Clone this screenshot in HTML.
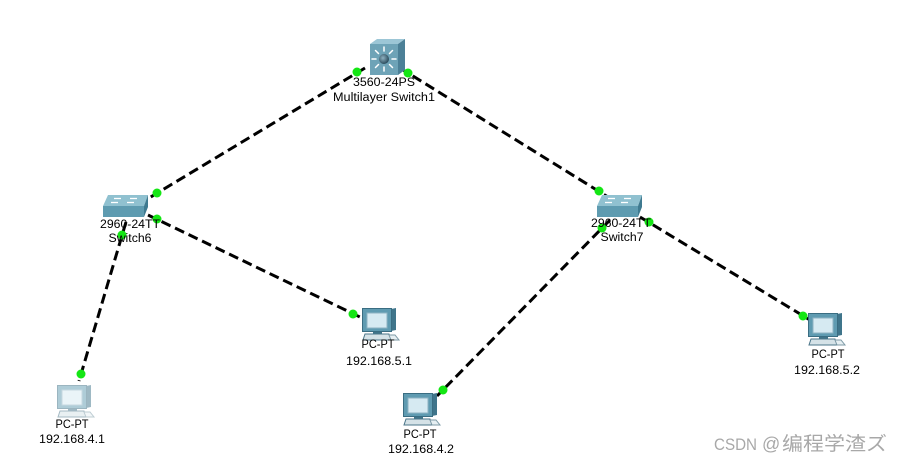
<!DOCTYPE html>
<html>
<head>
<meta charset="utf-8">
<style>
  html,body{margin:0;padding:0;background:#fff;}
  svg{display:block;}
  .lbl{font-family:"Liberation Sans","DejaVu Sans",sans-serif;font-size:11.5px;fill:#000;text-anchor:middle;}
  .wm{font-family:"Liberation Sans","Noto Sans CJK SC",sans-serif;fill:#a8a8a8;}
</style>
</head>
<body>
<svg width="902" height="461" viewBox="0 0 902 461" xmlns="http://www.w3.org/2000/svg">
  <defs>
    <radialGradient id="hub" cx="40%" cy="40%" r="60%">
      <stop offset="0" stop-color="#8fb0c0"/>
      <stop offset="1" stop-color="#2c4d5e"/>
    </radialGradient>
    <g id="pc">
      <polygon points="29,1 34,0 34,22 29,23" fill="#3f758b"/>
      <rect x="0.5" y="0.5" width="29" height="23" fill="#5f9bb1" stroke="#3a6d82"/>
      <rect x="5" y="5" width="20" height="15" fill="#d6eaf2" stroke="#8db3c2"/>
      <rect x="11" y="24" width="9" height="3" fill="#3f7489"/>
      <polygon points="3,26 27,26 29,32 1,32" fill="#d5e2e7" stroke="#4b7689" stroke-width="1"/>
      <polygon points="27,27 33,27 37,32 29,32" fill="#e6eff2" stroke="#7d9aa6" stroke-width="1"/>
    </g>
    <g id="sw">
      <polygon points="108,195 148,195 144,206 103,206" fill="#90c1d0"/>
      <rect x="103" y="206" width="41" height="11" fill="#5e9bb0"/>
      <polygon points="144,206 148,195 148,207 144,217" fill="#3f7a90"/>
      <g stroke="#ffffff" stroke-width="1.3">
        <line x1="114" y1="198.5" x2="121" y2="198.5"/>
        <line x1="130" y1="198.5" x2="137" y2="198.5"/>
        <line x1="111" y1="202.5" x2="118" y2="202.5"/>
        <line x1="127" y1="202.5" x2="134" y2="202.5"/>
      </g>
    </g>
  </defs>

  <!-- connections -->
  <g stroke="#000" stroke-width="3" stroke-dasharray="10,5" fill="none">
    <line x1="365" y1="68" x2="149" y2="198"/>
    <line x1="400" y1="68" x2="608" y2="197"/>
    <line x1="148" y1="215" x2="362" y2="318"/>
    <line x1="126" y1="222" x2="79" y2="381"/>
    <line x1="610" y1="220" x2="437" y2="396"/>
    <line x1="640" y1="217" x2="810" y2="320"/>
  </g>

  <!-- multilayer switch -->
  <g>
    <polygon points="370,44 377,39 405,39 398,44" fill="#9cc6d6"/>
    <rect x="370" y="44" width="28" height="31" fill="#6ea3b7"/>
    <polygon points="398,44 405,39 405,70 398,75" fill="#4c8097"/>
    <g stroke="#ffffff" stroke-width="1.5" stroke-linecap="round">
      <line x1="384" y1="51" x2="384" y2="47"/>
      <line x1="384" y1="67" x2="384" y2="71"/>
      <line x1="376" y1="59" x2="372" y2="59"/>
      <line x1="392" y1="59" x2="396" y2="59"/>
      <line x1="378.5" y1="53.5" x2="375.5" y2="50.5"/>
      <line x1="389.5" y1="53.5" x2="392.5" y2="50.5"/>
      <line x1="378.5" y1="64.5" x2="375.5" y2="67.5"/>
      <line x1="389.5" y1="64.5" x2="392.5" y2="67.5"/>
    </g>
    <circle cx="384" cy="59" r="5" fill="url(#hub)"/>
  </g>

  <!-- switches -->
  <use href="#sw"/>
  <use href="#sw" transform="translate(494,0)"/>

  <!-- PCs -->
  <use href="#pc" transform="translate(57,385)" opacity="0.5"/>
  <use href="#pc" transform="translate(362,308)"/>
  <use href="#pc" transform="translate(403,393)"/>
  <use href="#pc" transform="translate(808,313)"/>

  <!-- link lights -->
  <g fill="#14e614">
    <circle cx="357" cy="72" r="4.5"/>
    <circle cx="408" cy="73" r="4.5"/>
    <circle cx="157" cy="193" r="4.5"/>
    <circle cx="157" cy="219" r="4.5"/>
    <circle cx="122" cy="235" r="4.5"/>
    <circle cx="599" cy="191" r="4.5"/>
    <circle cx="649" cy="222" r="4.5"/>
    <circle cx="602" cy="228" r="4.5"/>
    <circle cx="81" cy="374" r="4.5"/>
    <circle cx="353" cy="314" r="4.5"/>
    <circle cx="443" cy="390" r="4.5"/>
    <circle cx="803" cy="316" r="4.5"/>
  </g>

  <!-- labels -->
  <text class="lbl" x="384" y="86" textLength="62" lengthAdjust="spacingAndGlyphs">3560-24PS</text>
  <text class="lbl" x="384" y="101" textLength="102" lengthAdjust="spacingAndGlyphs">Multilayer Switch1</text>

  <text class="lbl" x="130" y="228" textLength="60" lengthAdjust="spacingAndGlyphs">2960-24TT</text>
  <text class="lbl" x="130" y="242" textLength="43" lengthAdjust="spacingAndGlyphs">Switch6</text>

  <text class="lbl" x="621" y="227" textLength="60" lengthAdjust="spacingAndGlyphs">2960-24TT</text>
  <text class="lbl" x="622" y="241" textLength="43" lengthAdjust="spacingAndGlyphs">Switch7</text>

  <text class="lbl" x="72" y="428" textLength="33" lengthAdjust="spacingAndGlyphs">PC-PT</text>
  <text class="lbl" x="72" y="443" textLength="66" lengthAdjust="spacingAndGlyphs">192.168.4.1</text>

  <text class="lbl" x="378" y="348" textLength="33" lengthAdjust="spacingAndGlyphs">PC-PT</text>
  <text class="lbl" x="379" y="365" textLength="66" lengthAdjust="spacingAndGlyphs">192.168.5.1</text>

  <text class="lbl" x="420" y="438" textLength="33" lengthAdjust="spacingAndGlyphs">PC-PT</text>
  <text class="lbl" x="421" y="453" textLength="66" lengthAdjust="spacingAndGlyphs">192.168.4.2</text>

  <text class="lbl" x="828" y="358" textLength="33" lengthAdjust="spacingAndGlyphs">PC-PT</text>
  <text class="lbl" x="827" y="374" textLength="66" lengthAdjust="spacingAndGlyphs">192.168.5.2</text>

  <!-- watermark -->
  <text class="wm" x="714" y="450" font-size="17" textLength="43" lengthAdjust="spacingAndGlyphs">CSDN</text>
  <text class="wm" x="762" y="450" font-size="18">@</text>
  <text class="wm" x="782" y="450" font-size="19" textLength="105" lengthAdjust="spacingAndGlyphs">编程学渣ズ</text>
</svg>
</body>
</html>
